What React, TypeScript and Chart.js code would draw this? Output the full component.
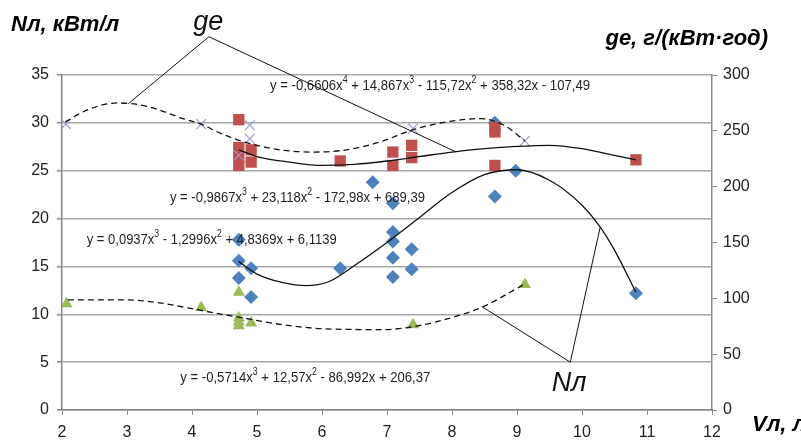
import { useEffect, useRef } from "react";
import { Chart, registerables } from "chart.js";

Chart.register(...registerables);

// ---- Data ----
// Nл, кВт/л — blue diamonds (left axis)
const NL_V = [4.72, 4.72, 4.72, 4.91, 4.91, 6.28, 6.78, 7.09, 7.09, 7.09, 7.09, 7.09, 7.38, 7.38, 8.66, 8.66, 8.98, 10.83];
const NL_VAL = [17.8, 15.6, 13.8, 14.8, 11.8, 14.8, 23.8, 21.6, 18.6, 17.6, 15.9, 13.9, 16.8, 14.7, 30.0, 22.3, 25.0, 12.2];

// ge, г/(кВт·год) — red squares (right axis)
const GE_V = [4.72, 4.72, 4.72, 4.72, 4.91, 4.91, 6.28, 7.09, 7.09, 7.38, 7.38, 8.66, 8.66, 8.66, 10.83];
const GE_VAL = [260, 235, 226, 219, 233, 222, 223, 231, 219, 237, 226, 253, 249, 219, 224];

// second ge series — purple crosses (right axis)
const GE2_V = [2.06, 4.14, 4.89, 4.89, 4.72, 7.4, 9.12];
const GE2_VAL = [256, 256, 255, 243, 228, 252, 241];

// second Nл series — green triangles (left axis)
const NL2_V = [2.07, 4.14, 4.72, 4.72, 4.72, 4.72, 4.91, 7.4, 9.12];
const NL2_VAL = [11.1, 10.7, 12.3, 9.6, 9.2, 8.8, 9.1, 8.9, 13.1];

// trend curves
const GE2_CURVE_V = [2.05, 2.4, 2.85, 3.3, 3.86, 4.14, 4.43, 4.7, 5.0, 5.35, 5.86, 6.38, 6.89, 7.4, 7.92, 8.43, 8.8, 9.12];
const GE2_CURVE_VAL = [258, 269, 275, 272, 261, 256, 248, 242, 237, 233, 231, 233, 240, 251, 258, 261, 255, 241];

const GE_CURVE_V = [4.72, 5.0, 5.5, 6.0, 6.5, 7.0, 7.5, 8.0, 8.5, 9.0, 9.5, 10.0, 10.5, 10.83];
const GE_CURVE_VAL = [233, 227, 222, 219, 220, 223, 227, 231, 234, 236, 237, 234, 228, 224];

const NL_CURVE_V = [4.72, 5.0, 5.4, 5.75, 6.1, 6.5, 7.0, 7.46, 7.97, 8.5, 9.0, 9.5, 10.0, 10.27, 10.5, 10.83];
const NL_CURVE_VAL = [15.5, 14.2, 13.3, 13.0, 13.4, 15.1, 17.5, 19.9, 22.6, 24.6, 25.1, 24.0, 21.4, 19.2, 16.7, 12.3];

const NL2_CURVE_V = [2.09, 3.0, 3.5, 4.14, 4.72, 5.4, 6.0, 6.94, 7.4, 7.97, 8.48, 9.1];
const NL2_CURVE_VAL = [11.5, 11.5, 11.2, 10.4, 9.7, 8.9, 8.5, 8.4, 8.7, 9.6, 10.8, 13.1];

// ticks
const X_MIN = 2, X_MAX = 12, X_STEP = 1;
const YL_MAX = 35, YL_STEP = 5;
const YR_MAX = 300, YR_STEP = 50;

// texts
const EQUATIONS = [
  "y = -0,6606x^4 + 14,867x^3 - 115,72x^2 + 358,32x - 107,49",
  "y = -0,9867x^3 + 23,118x^2 - 172,98x + 689,39",
  "y = 0,0937x^3 - 1,2996x^2 + 4,8369x + 6,1139",
  "y = -0,5714x^3 + 12,57x^2 - 86,992x + 206,37",
];
const TITLE_LEFT = "Nл, кВт/л";
const TITLE_RIGHT = "ge, г/(кВт·год)";
const TITLE_X = "Vл, л";
const LABEL_GE = "ge";
const LABEL_NL = "Nл";

const pts = (xs: number[], ys: number[]) => xs.map((x, i) => ({ x, y: ys[i] }));

const NARROW = "'Liberation Sans Narrow', 'Liberation Sans', Arial, sans-serif";
const SANS = "'Liberation Sans', Arial, sans-serif";

function drawEq(ctx: CanvasRenderingContext2D, text: string, x: number, y: number, targetW: number, size: number) {
  const parts = text.split(/\^(\d)/);
  const fN = `${size}px ${NARROW}`;
  const fS = `${Math.round(size * 0.66)}px ${NARROW}`;
  let w = 0;
  parts.forEach((p, i) => {
    ctx.font = i % 2 ? fS : fN;
    w += ctx.measureText(p).width;
  });
  ctx.save();
  ctx.translate(x, y);
  ctx.scale(targetW / w, 1);
  ctx.textBaseline = "middle";
  ctx.textAlign = "left";
  ctx.fillStyle = "#1f1f1f";
  let cx = 0;
  parts.forEach((p, i) => {
    ctx.font = i % 2 ? fS : fN;
    ctx.fillText(p, cx, i % 2 ? -size * 0.38 : 0);
    cx += ctx.measureText(p).width;
  });
  ctx.restore();
}

const annotationPlugin = {
  id: "annot",
  afterDatasetsDraw(chart: any) {
    const { ctx } = chart;
    const xs = chart.scales.x;
    const ys = chart.scales.y;
    const px = (v: number) => xs.getPixelForValue(v);
    const py = (v: number) => ys.getPixelForValue(v);
    ctx.save();
    // leader lines
    ctx.strokeStyle = "#111";
    ctx.lineWidth = 1;
    const lines: [number, number][][] = [
      [[3.02, 32.0], [4.26, 39.0], [8.05, 27.0]],
      [[8.46, 10.8], [9.82, 5.0], [10.28, 19.1]],
    ];
    lines.forEach((l) => {
      ctx.beginPath();
      l.forEach(([a, b], i) => (i ? ctx.lineTo(px(a), py(b)) : ctx.moveTo(px(a), py(b))));
      ctx.stroke();
    });
    // curve labels
    ctx.fillStyle = "#111";
    ctx.textAlign = "center";
    ctx.textBaseline = "alphabetic";
    ctx.font = `italic 27px ${NARROW}`;
    ctx.fillText(LABEL_GE, px(4.25), py(39.7));
    ctx.fillText(LABEL_NL, px(9.8), py(2.0));
    // equations
    drawEq(ctx, EQUATIONS[0], px(5.2), py(33.85), 320, 15);
    drawEq(ctx, EQUATIONS[1], px(3.66), py(22.15), 255, 15);
    drawEq(ctx, EQUATIONS[2], px(2.38), py(17.76), 250, 15);
    drawEq(ctx, EQUATIONS[3], px(3.82), py(3.34), 250, 15);
    // axis titles
    ctx.fillStyle = "#000";
    ctx.font = `bold italic 22px ${SANS}`;
    ctx.textBaseline = "alphabetic";
    ctx.textAlign = "left";
    ctx.fillText(TITLE_LEFT, 11, 31);
    ctx.textAlign = "right";
    ctx.fillText(TITLE_RIGHT, 768, 45);
    ctx.textAlign = "left";
    ctx.fillText(TITLE_X, 752, 431);
    ctx.restore();
  },
};

export default function App() {
  const ref = useRef<HTMLCanvasElement | null>(null);
  useEffect(() => {
    if (!ref.current) return;
    const curve = (data: any, axis: string, dash: number[]) => ({
      type: "line",
      data,
      yAxisID: axis,
      showLine: true,
      borderColor: "#111",
      borderWidth: 1.3,
      borderDash: dash,
      pointRadius: 0,
      cubicInterpolationMode: "monotone",
      fill: false,
      order: 0,
    });
    const chart = new Chart(ref.current, {
      type: "scatter",
      data: {
        datasets: [
          curve(pts(GE2_CURVE_V, GE2_CURVE_VAL), "y1", [6, 4]),
          curve(pts(GE_CURVE_V, GE_CURVE_VAL), "y1", []),
          curve(pts(NL_CURVE_V, NL_CURVE_VAL), "y", []),
          curve(pts(NL2_CURVE_V, NL2_CURVE_VAL), "y", [6, 4]),
          {
            label: "ge2",
            data: pts(GE2_V, GE2_VAL),
            yAxisID: "y1",
            pointStyle: "crossRot",
            pointRadius: 7,
            borderColor: "#a594cc",
            backgroundColor: "#a594cc",
            borderWidth: 1.2,
            order: 1,
          },
          {
            label: "ge",
            data: pts(GE_V, GE_VAL),
            yAxisID: "y1",
            pointStyle: "rect",
            pointRadius: 8,
            borderWidth: 0,
            backgroundColor: "#c0504d",
            order: 2,
          },
          {
            label: "Nl2",
            data: pts(NL2_V, NL2_VAL),
            yAxisID: "y",
            pointStyle: "triangle",
            pointRadius: 7,
            borderWidth: 0,
            backgroundColor: "#9bbb59",
            order: 3,
          },
          {
            label: "Nl",
            data: pts(NL_V, NL_VAL),
            yAxisID: "y",
            pointStyle: "rectRot",
            pointRadius: 7,
            borderWidth: 0,
            backgroundColor: "#4f81bd",
            order: 4,
          },
        ] as any,
      },
      options: {
        responsive: false,
        animation: false,
        layout: { padding: { top: 75, left: 0, right: 0, bottom: 0 } },
        plugins: { legend: { display: false }, tooltip: { enabled: false } },
        scales: {
          x: {
            type: "linear",
            min: X_MIN,
            max: X_MAX,
            ticks: { stepSize: X_STEP, color: "#222", padding: 8, font: { family: NARROW, size: 16 } },
            grid: { drawOnChartArea: false, tickLength: 5, tickColor: "#868686" },
            border: { color: "#868686", width: 1.5 },
            afterFit: (s: any) => { s.height = 37; },
          },
          y: {
            position: "left",
            min: 0,
            max: YL_MAX,
            ticks: { stepSize: YL_STEP, color: "#222", padding: 8, font: { family: NARROW, size: 16 } },
            grid: { color: "#a6a6a6", lineWidth: 1.5, tickLength: 5, tickColor: "#868686" },
            border: { color: "#868686", width: 1.5 },
            afterFit: (s: any) => { s.width = 62; },
          },
          y1: {
            position: "right",
            min: 0,
            max: YR_MAX,
            ticks: { stepSize: YR_STEP, color: "#222", padding: 6, font: { family: NARROW, size: 16 } },
            grid: { drawOnChartArea: false, tickLength: 5, tickColor: "#868686" },
            border: { color: "#868686", width: 1.5 },
            afterFit: (s: any) => { s.width = 89; },
          },
        },
      } as any,
      plugins: [annotationPlugin],
    });
    return () => chart.destroy();
  }, []);
  return (
    <div style={{ position: "fixed", left: 0, top: 0, width: 801, height: 447, background: "#fff" }}>
      <canvas ref={ref} width={801} height={447} style={{ width: 801, height: 447 }} />
    </div>
  );
}
